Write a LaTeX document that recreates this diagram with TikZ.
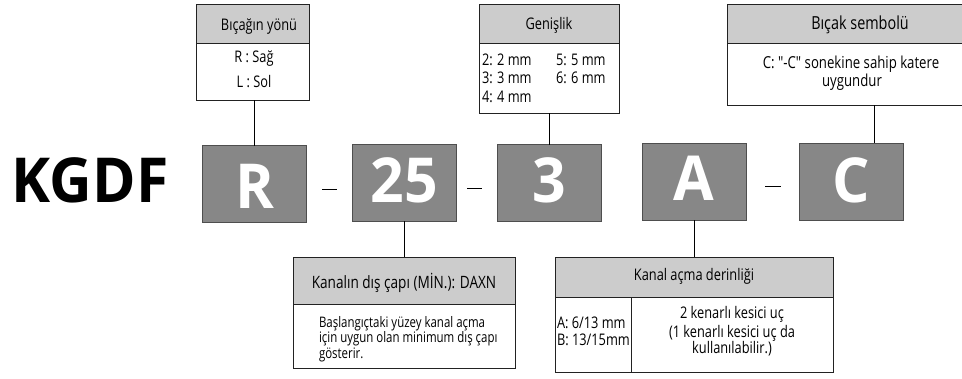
\documentclass[tikz,border=0pt]{standalone}
\usepackage{fontspec}
\setmainfont{Open Sans}[FakeStretch=0.8]
\newfontfamily\bigfont{Open Sans}[FakeStretch=0.95]
\newfontfamily\narrowfont{Open Sans}[FakeStretch=0.79]
\newfontfamily\plainfont{Open Sans}[FakeStretch=0.8]
\definecolor{boxgray}{HTML}{878787}
\definecolor{hdrgray}{HTML}{CCCCCC}
\definecolor{edge}{HTML}{222222}
\begin{document}
\begin{tikzpicture}[x=1pt,y=-1pt,
  every node/.style={inner sep=0pt,outer sep=0pt},
  hdr/.style={draw=edge,fill=hdrgray,line width=0.9pt,rectangle},
  bodybox/.style={draw=edge,fill=white,line width=0.9pt,rectangle},
  codebox/.style={draw=edge!80,fill=boxgray,line width=0.9pt,rectangle,minimum width=104,minimum height=77},
  codetxt/.style={anchor=base,text=white,font=\bigfont\bfseries\fontsize{62}{62}\selectfont},
  txt/.style={anchor=base,font=\fontsize{16}{18}\selectfont},
  ltxt/.style={anchor=base west,font=\fontsize{16}{18}\selectfont},
  ktxt/.style={anchor=base west,font=\narrowfont\fontsize{14.5}{16}\selectfont},
  conn/.style={draw=black,line width=1pt},
  dashln/.style={draw=black,line width=0.9pt}]
\useasboundingbox (0,0) rectangle (962,378);
% code boxes
\node[codebox] (R) at (254.5,184) {};
\node[codebox] (B25) at (404,182.5) {};
\node[codebox] (B3) at (549,183) {};
\node[codebox] (BA) at (694,181.5) {};
\node[codebox] (BC) at (851.5,181.5) {};
\node[anchor=base west,font=\bigfont\bfseries\fontsize{62}{62}\selectfont] (kgdf) at (12,202) {KGDF};
\node[codetxt] (tR) at (254.5,208) {R};
\node[codetxt] (t25) at (404,202) {25};
\node[codetxt] (t3) at (549,202) {3};
\node[codetxt] (tA) at (694,200) {A};
\node[codetxt] (tC) at (851.5,202) {C};
% dashes
\coordinate (d1a) at (322,189); \coordinate (d1b) at (337,189);
\coordinate (d2a) at (467,188); \coordinate (d2b) at (482,188);
\coordinate (d3a) at (765,186); \coordinate (d3b) at (781,186);
\draw[dashln] (d1a) -- (d1b);
\draw[dashln] (d2a) -- (d2b);
\draw[dashln] (d3a) -- (d3b);
% top box 1
\node[bodybox,minimum width=113,minimum height=57] (b1b) at (252.5,71.5) {};
\node[hdr,minimum width=113,minimum height=39] (b1h) at (252.5,23.5) {};
\node[txt] (b1t) at (259,30) {Bıçağın yönü};
\node[txt] (b1l1) at (254,62) {R : Sağ};
\node[txt] (b1l2) at (254,87) {L : Sol};
\draw[conn] (b1b.south -| R.north) -- (R.north);
% top box 2
\node[bodybox,minimum width=140,minimum height=70] (b2b) at (549,78) {};
\node[hdr,minimum width=140,minimum height=39] (b2h) at (549,23.5) {};
\node[txt] (b2t) at (549,29) {Genişlik};
\node[ltxt] (b2a) at (482,65) {2: 2 mm};
\node[ltxt] (b2b2) at (482,83) {3: 3 mm};
\node[ltxt] (b2c) at (482,102) {4: 4 mm};
\node[ltxt] (b2d) at (556,65) {5: 5 mm};
\node[ltxt] (b2e) at (556,83) {6: 6 mm};
\draw[conn] (b2b.south) -- (B3.north);
% top box 3
\node[bodybox,minimum width=262,minimum height=62] (b3b) at (858,74) {};
\node[hdr,minimum width=262,minimum height=39] (b3h) at (858,23.5) {};
\node[txt,font=\fontsize{18}{20}\selectfont] (b3t) at (860,29) {Bıçak sembolü};
\node[txt,font=\plainfont\fontsize{16.5}{18}\selectfont] (b3l1) at (851,68) {C: "-C" sonekine sahip katere};
\node[txt,font=\plainfont\fontsize{16.5}{18}\selectfont] (b3l2) at (852,86) {uygundur};
\coordinate (c3) at (874,105);
\draw[conn] (c3) -- (c3 |- BC.north);
% bottom box K
\node[hdr,minimum width=222,minimum height=47] (kh) at (404,280.5) {};
\node[bodybox,minimum width=222,minimum height=64] (kb) at (404,336) {};
\node[txt,font=\fontsize{17}{19}\selectfont] (kt) at (404,288) {Kanalın dış çapı (MİN.): DAXN};
\node[ktxt] (kl1) at (319,327) {Başlangıçtaki yüzey kanal açma};
\node[ktxt] (kl2) at (319,342.5) {için uygun olan minimum dış çapı};
\node[ktxt] (kl3) at (319,358) {gösterir.};
\draw[conn] (B25.south) -- (kh.north);
% bottom box Kanal acma
\node[hdr,minimum width=278,minimum height=40] (ah) at (694,277) {};
\node[bodybox,minimum width=76,minimum height=75] (abl) at (593,334.5) {};
\node[bodybox,minimum width=202,minimum height=75] (abr) at (732,334.5) {};
\node[txt] (at) at (694,280) {Kanal açma derinliği};
\node[ltxt] (al1) at (557,328) {A: 6/13 mm};
\node[ltxt] (al2) at (557,345) {B: 13/15mm};
\node[txt] (ar1) at (732,318) {2 kenarlı kesici uç};
\node[txt] (ar2) at (732,337) {(1 kenarlı kesici uç da};
\node[txt] (ar3) at (732,353) {kullanılabilir.)};
\draw[conn] (BA.south) -- (ah.north);
\end{tikzpicture}
\end{document}
